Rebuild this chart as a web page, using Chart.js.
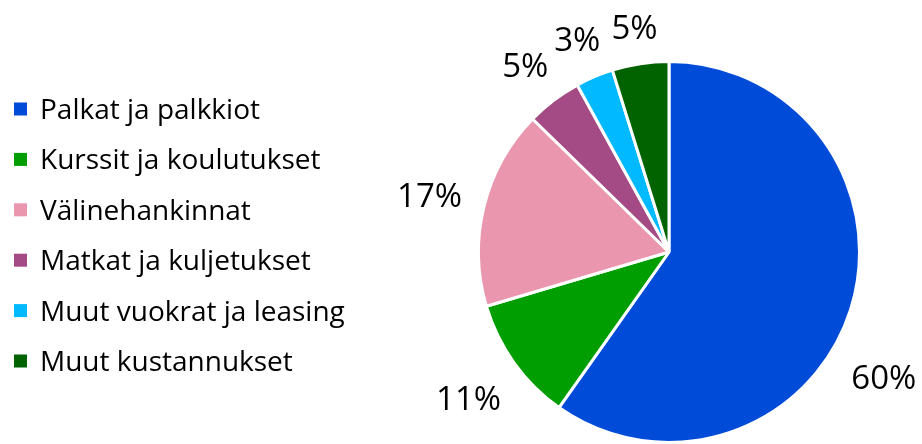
<!DOCTYPE html>
<html><head><meta charset="utf-8">
<script src="https://cdn.jsdelivr.net/npm/chart.js@4/dist/chart.umd.min.js"></script>
<style>html,body{margin:0;padding:0;background:#fff}#wrap{width:922px;height:444px}</style>
</head><body><div id="wrap"><canvas id="c" width="922" height="444"></canvas></div>
<script>
const categories = ["Palkat ja palkkiot","Kurssit ja koulutukset","Välinehankinnat","Matkat ja kuljetukset","Muut vuokrat ja leasing","Muut kustannukset"];
const shares = [59.8, 10.6, 16.9, 4.7, 3.2, 4.8];
const shareLabels = ["60%","11%","17%","5%","3%","5%"];
const sliceColors = ["#004BD8","#009E00","#EA96AE","#A44A84","#00B9FF","#006300"];

const FONT = '"Open Sans", "DejaVu Sans", sans-serif';

const legendPlugin = {
  id: 'sideLegend',
  afterDraw(chart) {
    const ctx = chart.ctx;
    const ds = chart.data.datasets[0];
    ctx.save();
    ctx.font = '28px ' + FONT;
    ctx.textBaseline = 'alphabetic';
    ctx.textAlign = 'left';
    chart.data.labels.forEach((lab, i) => {
      const cy = 109 + i * 50.4;
      ctx.fillStyle = ds.backgroundColor[i];
      ctx.fillRect(14, cy - 6.5, 13, 13);
      ctx.fillStyle = '#000';
      ctx.fillText(lab, 40, cy + 10);
    });
    ctx.restore();
  }
};

const pctPlugin = {
  id: 'pctLabels',
  afterDatasetsDraw(chart) {
    const ctx = chart.ctx;
    const meta = chart.getDatasetMeta(0);
    ctx.save();
    ctx.font = '33px ' + FONT;
    ctx.fillStyle = '#000';
    ctx.textAlign = 'center';
    ctx.textBaseline = 'middle';
    const W = chart.width, H = chart.height;
    meta.data.forEach((arc, i) => {
      const p = arc.getProps(['x','y','startAngle','endAngle','outerRadius'], true);
      const txt = shareLabels[i];
      const w = ctx.measureText(txt).width / 2;
      const h = 15;
      const pad = 21;
      const place = (a) => {
        const ux = Math.cos(a), uy = Math.sin(a);
        const d = p.outerRadius + pad + Math.abs(ux) * w + Math.abs(uy) * h;
        return [p.x + ux * d, p.y + uy * d];
      };
      const fits = ([cx, cy]) => cx - w >= 2 && cx + w <= W - 5 && cy - h >= 2 && cy + h <= H - 2;
      const mid = (p.startAngle + p.endAngle) / 2;
      let pos = place(mid);
      if (!fits(pos)) {
        for (let k = 1; k <= 90; k++) {
          const a1 = place(mid + k * Math.PI / 180);
          if (fits(a1)) { pos = a1; break; }
          const a2 = place(mid - k * Math.PI / 180);
          if (fits(a2)) { pos = a2; break; }
        }
      }
      ctx.fillText(txt, pos[0], pos[1] + 5);
    });
    ctx.restore();
  }
};

new Chart(document.getElementById('c'), {
  type: 'pie',
  data: {
    labels: categories,
    datasets: [{
      data: shares,
      backgroundColor: sliceColors,
      borderColor: '#ffffff',
      borderWidth: 3
    }]
  },
  options: {
    responsive: false,
    devicePixelRatio: 1,
    animation: false,
    layout: { padding: { left: 477, right: 61, top: 60, bottom: 0 } },
    plugins: { legend: { display: false }, tooltip: { enabled: false } }
  },
  plugins: [legendPlugin, pctPlugin]
});
</script></body></html>
